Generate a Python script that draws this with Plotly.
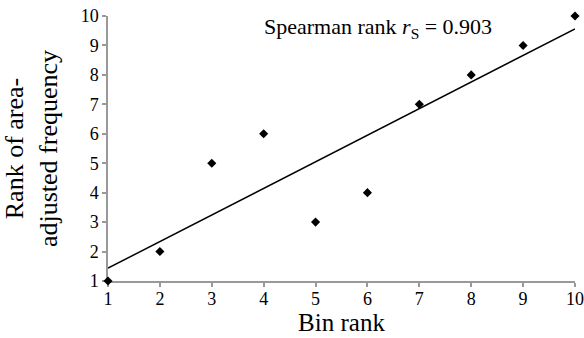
import numpy as np
import plotly.graph_objects as go

bin_rank = [1, 2, 3, 4, 5, 6, 7, 8, 9, 10]
freq_rank = [1, 2, 5, 6, 3, 4, 7, 8, 9, 10]
tick_vals = [1, 2, 3, 4, 5, 6, 7, 8, 9, 10]
annotation_text = "Spearman rank <i>r</i><sub>S</sub> = 0.903"

slope, intercept = np.polyfit(bin_rank, freq_rank, 1)
line_x = [min(bin_rank), max(bin_rank)]
line_y = [slope * v + intercept for v in line_x]

FONT = "Liberation Serif"

fig = go.Figure()
fig.add_trace(go.Scatter(x=line_x, y=line_y, mode="lines",
                         line=dict(color="black", width=1.5), cliponaxis=False,
                         showlegend=False, hoverinfo="skip"))
fig.add_trace(go.Scatter(x=bin_rank, y=freq_rank, mode="markers",
                         marker=dict(symbol="diamond", size=7, color="black"),
                         cliponaxis=False, showlegend=False))

axis_common = dict(
    range=[1, 10], tickvals=tick_vals, showgrid=False, zeroline=False,
    showline=True, linecolor="#999999", linewidth=1.5, layer="below traces",
    ticks="outside", ticklen=4, tickcolor="#999999", tickwidth=1.5,
    tickfont=dict(family=FONT, size=18, color="black"), automargin=False,
)

fig.update_xaxes(**axis_common, ticklabelstandoff=-3,
                 title=dict(text="Bin rank", font=dict(family=FONT, size=25, color="black"), standoff=2))
fig.update_yaxes(**axis_common,
                 title=dict(text="Rank of area-<br>adjusted frequency",
                            font=dict(family=FONT, size=26, color="black"), standoff=16))

fig.add_annotation(x=0.33, y=0.955, xref="paper", yref="paper",
                   text=annotation_text, showarrow=False,
                   xanchor="left", yanchor="middle",
                   font=dict(family=FONT, size=22, color="black"))

fig.update_layout(width=584, height=338, margin=dict(l=108, r=9, t=16, b=57),
                  plot_bgcolor="white", paper_bgcolor="white",
                  font=dict(family=FONT, color="black"))

fig.write_html("out.html")
